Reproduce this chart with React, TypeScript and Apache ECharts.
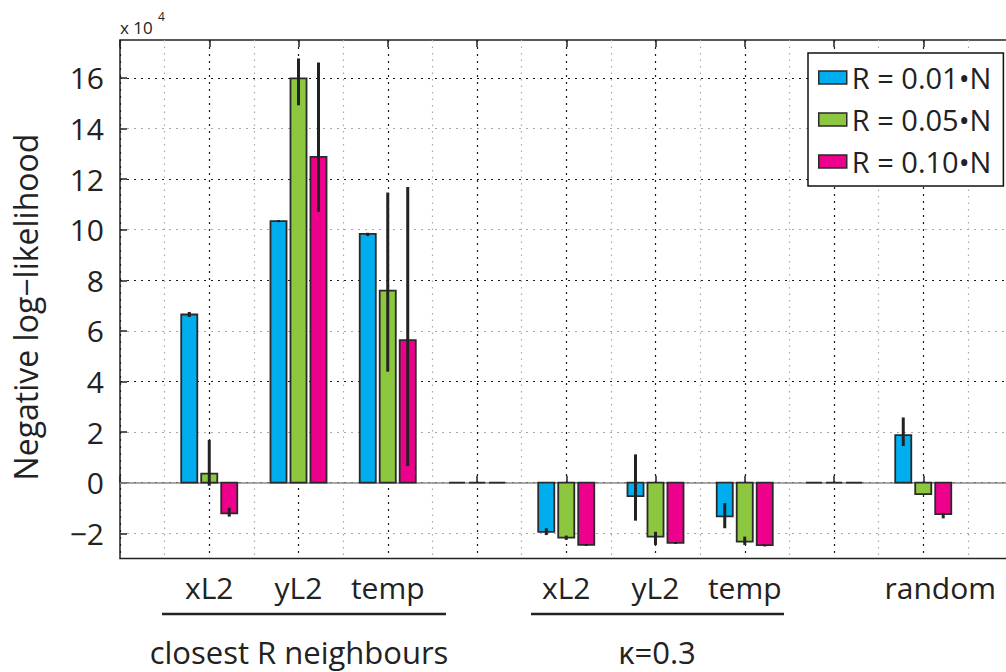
import React, { useEffect, useRef } from 'react';
import * as echarts from 'echarts';

// ---- data (values in units of 10^4) ----
const positions = [1, 2, 3, 4, 5, 6, 7, 8, 9];
const xLabels = ['xL2', 'yL2', 'temp', '', 'xL2', 'yL2', 'temp', '', 'random'];
const seriesNames = ['R = 0.01•N', 'R = 0.05•N', 'R = 0.10•N'];
const seriesColors = ['#00AEEF', '#8DC63F', '#EC008C'];

const r01 = [6.65, 10.34, 9.84, 0, -1.94, -0.53, -1.33, 0, 1.88];
const r01Low = [6.55, 10.3, 9.75, null, -2.07, -1.5, -1.8, null, 1.45];
const r01High = [6.75, 10.38, 9.88, null, -1.8, 1.12, -0.81, null, 2.58];

const r05 = [0.36, 15.98, 7.59, 0, -2.17, -2.13, -2.33, 0, -0.45];
const r05Low = [-0.12, 14.92, 4.39, null, -2.26, -2.46, -2.46, null, null];
const r05High = [1.69, 16.77, 11.47, null, -2.09, -1.94, -2.13, null, null];

const r10 = [-1.21, 12.88, 5.64, 0, -2.46, -2.38, -2.47, 0, -1.24];
const r10Low = [-1.34, 10.71, 0.66, null, -2.5, -2.42, -2.52, null, -1.41];
const r10High = [-0.99, 16.61, 11.69, null, -2.42, -2.34, -2.44, null, -1.19];

const yTickValues = [-2, 0, 2, 4, 6, 8, 10, 12, 14, 16];
const groupLabels = ['closest R neighbours', 'κ=0.3'];

const FONT = 'Open Sans';
const BAR_W = 0.18;
const BAR_STEP = 0.224;

const values = [r01, r05, r10];
const lows = [r01Low, r05Low, r10Low];
const highs = [r01High, r05High, r10High];

function makeRender(k: number) {
  return (params: any, api: any) => {
    const x = api.value(0) + (k - 1) * BAR_STEP;
    const v = api.value(1);
    const lo = api.value(2);
    const hi = api.value(3);
    const a = api.coord([x - BAR_W / 2, 0]);
    const b = api.coord([x + BAR_W / 2, v]);
    const children: any[] = [
      {
        type: 'rect',
        shape: {
          x: a[0],
          y: Math.min(a[1], b[1]),
          width: b[0] - a[0],
          height: Math.abs(b[1] - a[1]),
        },
        style: { fill: seriesColors[k], stroke: '#2a2a2a', lineWidth: 1.8 },
      },
    ];
    if (!isNaN(lo) && !isNaN(hi)) {
      const c = api.coord([x, lo]);
      const d = api.coord([x, hi]);
      children.push({
        type: 'line',
        shape: { x1: c[0], y1: c[1], x2: d[0], y2: d[1] },
        style: { stroke: '#222', lineWidth: 3 },
      });
    }
    return { type: 'group', children };
  };
}

export default function App() {
  const ref = useRef<HTMLDivElement>(null);

  useEffect(() => {
    if (!ref.current) return;
    const chart = echarts.init(ref.current, undefined, { renderer: 'svg' });

    const series: any[] = values.map((vals, k) => ({
      type: 'custom',
      name: seriesNames[k],
      itemStyle: { color: seriesColors[k] },
      encode: { x: 0, y: 1 },
      renderItem: makeRender(k),
      data: positions.map((p, i) => [p, vals[i], lows[k][i], highs[k][i]]),
      z: 3,
      markLine:
        k === 0
          ? {
              silent: true,
              symbol: 'none',
              label: { show: false },
              lineStyle: { color: '#8a8a8a', width: 1.5, type: 'solid' },
              data: [{ yAxis: 0 }],
              z: 1,
            }
          : undefined,
    }));

    const option: any = {
      animation: false,
      backgroundColor: '#fff',
      textStyle: { fontFamily: FONT },
      grid: {
        left: 120,
        top: 40,
        width: 892.5,
        height: 518.6,
        show: true,
        borderColor: '#222',
        borderWidth: 1.5,
        backgroundColor: 'transparent',
        outerBoundsMode: 'none',
      },
      xAxis: [
        {
          type: 'value',
          min: 0,
          max: 10,
          interval: 1,
          position: 'bottom',
          axisLine: { show: false },
          axisTick: { show: true, inside: true, length: 7, lineStyle: { color: '#222', width: 1.5 } },
          minorTick: { show: false, splitNumber: 2 },
          axisLabel: {
            fontFamily: FONT,
            fontSize: 30,
            color: '#222',
            margin: 14,
            formatter: (v: number) => {
              const i = positions.indexOf(Math.round(v));
              if (i < 0 || Math.abs(v - Math.round(v)) > 1e-6) return '';
              const t = xLabels[i];
              if (t === 'random') return '{r|' + t + '}';
              return t;
            },
            rich: {
              r: { fontFamily: FONT, fontSize: 30, color: '#222', padding: [0, 0, 0, 34] },
            },
          },
          splitLine: { show: true, lineStyle: { color: '#1a1a1a', type: [2, 5], width: 1.2 } },
          minorSplitLine: { show: true, lineStyle: { color: '#a8a8a8', type: [1.5, 5], width: 1.2 } },
        },
        {
          type: 'value',
          min: 0,
          max: 10,
          interval: 1,
          position: 'top',
          axisLine: { show: false },
          axisTick: { show: true, inside: true, length: 7, lineStyle: { color: '#222', width: 1.5 } },
          axisLabel: { show: false },
          splitLine: { show: false },
        },
      ],
      yAxis: {
        type: 'value',
        min: -3,
        max: 17.5,
        interval: 1,
        axisLine: { show: false },
        axisTick: {
          show: true,
          inside: true,
          length: 7,
          customValues: yTickValues,
          lineStyle: { color: '#222', width: 1.5 },
        },
        axisLabel: {
          customValues: yTickValues,
          fontFamily: FONT,
          fontSize: 30,
          color: '#222',
          margin: 16,
          formatter: (v: number) => (v < 0 ? '\u2212' + Math.abs(v) : String(v)),
        },
        splitLine: {
          show: true,
          lineStyle: { color: ['#a8a8a8', '#1a1a1a'], type: [2, 5], width: 1.2 },
        },
      },
      legend: {
        orient: 'vertical',
        left: 808,
        top: 53,
        padding: [10, 12, 10, 10],
        itemGap: 13,
        itemWidth: 28,
        itemHeight: 13,
        backgroundColor: '#fff',
        borderColor: '#111',
        borderWidth: 1.5,
        borderRadius: 0,
        icon: 'rect',
        itemStyle: { borderColor: '#2a2a2a', borderWidth: 1.5 },
        textStyle: { fontFamily: FONT, fontSize: 29, color: '#222', lineHeight: 28 },
        data: seriesNames,
        z: 10,
      },
      graphic: [
        {
          type: 'text',
          x: 120,
          y: 27,
          style: { text: 'x 10', fontFamily: FONT, fontSize: 17, fill: '#222', align: 'left', verticalAlign: 'middle' },
        },
        {
          type: 'text',
          x: 158,
          y: 16,
          style: { text: '4', fontFamily: FONT, fontSize: 12, fill: '#222', align: 'left', verticalAlign: 'middle' },
        },
        {
          type: 'text',
          x: 25,
          y: 307,
          rotation: Math.PI / 2,
          style: {
            text: 'Negative log\u2212likelihood',
            fontFamily: FONT,
            fontSize: 32,
            fill: '#222',
            align: 'center',
            verticalAlign: 'middle',
          },
        },
        {
          type: 'line',
          shape: { x1: 162, y1: 614, x2: 446, y2: 614 },
          style: { stroke: '#222', lineWidth: 2.5 },
        },
        {
          type: 'line',
          shape: { x1: 531, y1: 614, x2: 784, y2: 614 },
          style: { stroke: '#222', lineWidth: 2.5 },
        },
        {
          type: 'text',
          x: 299,
          y: 652,
          style: {
            text: groupLabels[0],
            fontFamily: FONT,
            fontSize: 31,
            lineHeight: 32,
            fill: '#222',
            align: 'center',
            verticalAlign: 'middle',
          },
        },
        {
          type: 'text',
          x: 657,
          y: 652,
          style: {
            text: groupLabels[1],
            fontFamily: FONT,
            fontSize: 31,
            lineHeight: 32,
            fill: '#222',
            align: 'center',
            verticalAlign: 'middle',
          },
        },
      ],
      series,
    };

    chart.setOption(option);
    return () => chart.dispose();
  }, []);

  return (
    <div
      ref={ref}
      style={{ position: 'absolute', left: 0, top: 0, width: 1006, height: 672, background: '#fff' }}
    />
  );
}
